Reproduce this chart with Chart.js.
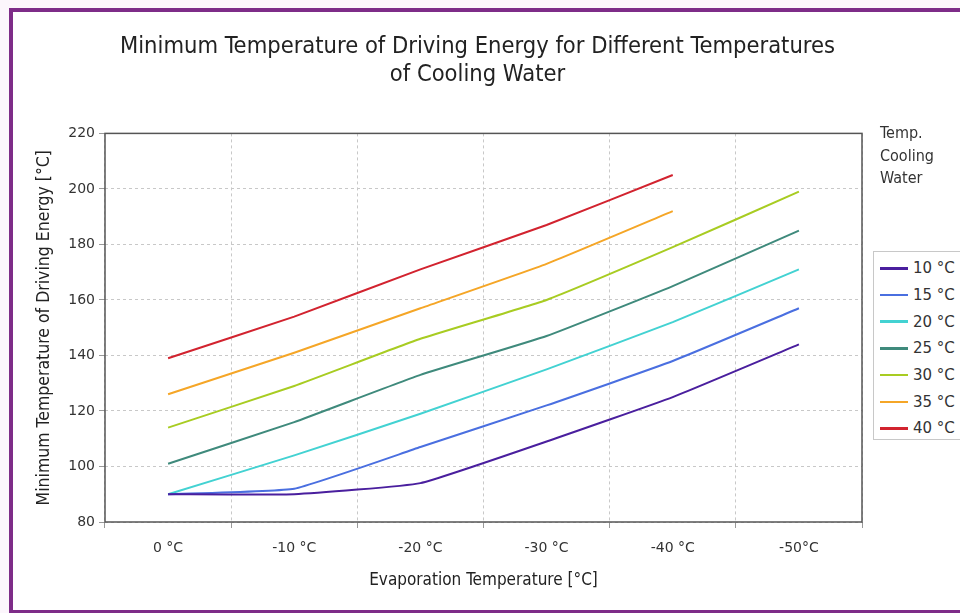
<!DOCTYPE html>
<html>
<head>
<meta charset="utf-8">
<script src="https://cdn.jsdelivr.net/npm/chart.js@4"></script>
<style>
  html, body { margin: 0; padding: 0; background: #fcf6fc; }
  #wrap { position: relative; width: 960px; height: 613px; overflow: hidden; }
  #frame { position: absolute; left: 9px; top: 8px; width: 960px; height: 598px; border: 4px solid #7e2c88; background: #fff; }
  #c { position: absolute; left: 0; top: 0; }
  #legTitle { position: absolute; left: 880px; top: 122px; font: 16px "DejaVu Sans Condensed", "DejaVu Sans", sans-serif; color: #333; line-height: 22.5px; }
  #legend { position: absolute; left: 873px; top: 251px; width: 100px; height: 189px; border: 1px solid #c8c8c8; background: #fff; box-sizing: border-box; padding-top: 3px; }
  .item { height: 26.7px; display: flex; align-items: center; font: 15px "DejaVu Sans", sans-serif; color: #333; }
  .sw { width: 28px; height: 2.5px; margin-left: 6px; margin-right: 5px; }
</style>
</head>
<body>
<div id="wrap">
  <div id="frame"></div>
  <canvas id="c" width="960" height="613"></canvas>
  <div id="legTitle">Temp.<br>Cooling<br>Water</div>
  <div id="legend"></div>
</div>
<script>
const categories = ["0 °C", "-10 °C", "-20 °C", "-30 °C", "-40 °C", "-50°C"];
const seriesNames = ["10 °C", "15 °C", "20 °C", "25 °C", "30 °C", "35 °C", "40 °C"];
const seriesColors = ["#4a1f9e", "#4a6fe0", "#43d2d2", "#3f8a7c", "#a8cc22", "#f5a627", "#d2232f"];
const cw10 = [90, 90, 94, 109, 125, 144];
const cw15 = [90, 92, 107, 122, 138, 157];
const cw20 = [90, 104, 119, 135, 152, 171];
const cw25 = [101, 116, 133, 147, 165, 185];
const cw30 = [114, 129, 146, 160, 179, 199];
const cw35 = [126, 141, 157, 173, 192, null];
const cw40 = [139, 154, 171, 187, 205, null];
const seriesValues = [cw10, cw15, cw20, cw25, cw30, cw35, cw40];
const yTicks = [80, 100, 120, 140, 160, 180, 200, 220];

const datasets = seriesNames.map((n, i) => ({
  label: n,
  data: seriesValues[i],
  borderColor: seriesColors[i],
  backgroundColor: seriesColors[i],
  borderWidth: 2,
  pointRadius: 0,
  tension: 0.12,
  fill: false,
  yAxisID: 'y'
}));

// HTML legend built from arrays
const leg = document.getElementById('legend');
seriesNames.forEach((n, i) => {
  const d = document.createElement('div');
  d.className = 'item';
  d.innerHTML = '<span class="sw" style="background:' + seriesColors[i] + '"></span><span>' + n + '</span>';
  leg.appendChild(d);
});

const boxPlugin = {
  id: 'box',
  afterDraw(chart) {
    const a = chart.chartArea, ctx = chart.ctx;
    ctx.save();
    ctx.strokeStyle = '#555';
    ctx.lineWidth = 1.5;
    ctx.strokeRect(a.left, a.top, a.right - a.left, a.bottom - a.top);
    ctx.restore();
  }
};

const condensed = '"DejaVu Sans Condensed", "DejaVu Sans", sans-serif';

new Chart(document.getElementById('c'), {
  type: 'line',
  data: { labels: categories, datasets },
  plugins: [boxPlugin],
  options: {
    responsive: false,
    animation: false,
    layout: { padding: { left: 13, right: 18, top: 0, bottom: 0 } },
    plugins: {
      legend: { display: false },
      tooltip: { enabled: false },
      title: {
        display: true,
        text: ["Minimum Temperature of Driving Energy for Different Temperatures", "of Cooling Water"],
        font: { family: condensed, size: 23.5, weight: 'normal', lineHeight: 1.2 },
        color: '#222',
        padding: { top: 33, bottom: 44 }
      }
    },
    scales: {
      x: {
        type: 'category',
        offset: true,
        grid: { color: '#c8c8c8', offset: true, tickLength: 6, drawTicks: true, tickColor: '#999' },
        border: { display: false, dash: [3, 3] },
        ticks: { color: '#333', font: { family: '"DejaVu Sans", sans-serif', size: 14 }, padding: 12, maxRotation: 0 },
        title: { display: true, text: 'Evaporation Temperature [°C]', color: '#222', font: { family: condensed, size: 17 }, padding: { top: 0, bottom: 22 } },
        afterFit(s) { s.height = 91; }
      },
      y: {
        min: 80, max: 220,
        afterBuildTicks(s) { s.ticks = yTicks.map(v => ({ value: v })); },
        grid: { color: '#c8c8c8', tickLength: 6, tickColor: '#999' },
        border: { display: false, dash: [3, 3] },
        ticks: { color: '#333', font: { family: '"DejaVu Sans", sans-serif', size: 14 }, padding: 4 },
        title: { display: true, text: 'Minimum Temperature of Driving Energy [°C]', color: '#222', font: { family: condensed, size: 17.5 }, padding: { top: 21, bottom: 0 } },
        afterFit(s) { s.width = 92; }
      },
      yRight: {
        type: 'linear',
        position: 'right',
        display: true,
        min: 80, max: 220,
        grid: { display: false, drawTicks: false },
        border: { display: false },
        ticks: { display: false },
        afterFit(s) { s.width = 80; }
      }
    }
  }
});
</script>
</body>
</html>
